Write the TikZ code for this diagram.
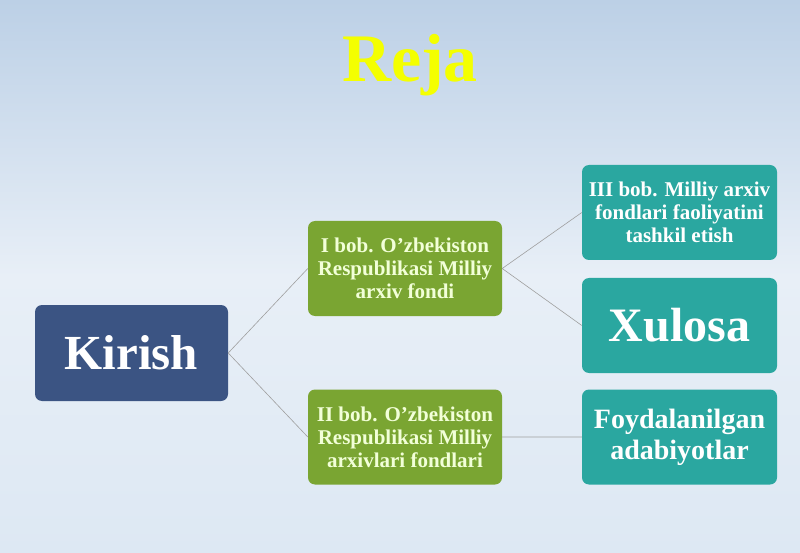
\documentclass[tikz,border=0pt]{standalone}
\usepackage{fontspec}
\setmainfont{Liberation Serif}
\usetikzlibrary{positioning}
\definecolor{kirishblue}{HTML}{3B5483}
\definecolor{bobgreen}{HTML}{7AA532}
\definecolor{bobteal}{HTML}{2AA7A0}
\definecolor{bgtop}{HTML}{BCD0E6}
\definecolor{bgmid}{HTML}{E8EFF7}
\definecolor{bgbot}{HTML}{DDE8F3}
\definecolor{rejayellow}{HTML}{F4FF00}
\definecolor{greentext}{HTML}{F2FFD8}
\tikzset{
    box/.style={rounded corners=7pt,inner sep=0pt,align=center,font=\bfseries},
    kbox/.style={box,fill=kirishblue,text=white,minimum width=193pt,minimum height=96pt},
    gbox/.style={box,fill=bobgreen,text=greentext,minimum width=194pt,minimum height=95pt},
    tbox/.style={box,fill=bobteal,text=white,minimum width=195pt,minimum height=95pt},
    small/.style={font=\bfseries\fontsize{21}{23}\selectfont},
    link/.style={draw=gray!75,line width=0.6pt},
}
\begin{document}
\begin{tikzpicture}[x=1pt,y=-1pt]
\shade[top color=bgtop,bottom color=bgbot,middle color=bgmid] (0,0) rectangle (800,553);
\useasboundingbox (0,0) rectangle (800,553);
\node[anchor=base,text=rejayellow,font=\bfseries\fontsize{68}{68}\selectfont] (reja) at (410,82) {Reja};
\node[kbox,font=\bfseries\fontsize{49}{56}\selectfont] (kirish) at (131.5,353) {Kirish};
\node[gbox,small] (bob1) at (405,268.5) {I bob. O’zbekiston\\Respublikasi Milliy\\arxiv fondi};
\node[gbox,small] (bob2) at (405,437) {II bob. O’zbekiston\\Respublikasi Milliy\\arxivlari fondlari};
\node[tbox,small] (bob3) at (679.5,212.5) {III bob. Milliy arxiv\\fondlari faoliyatini\\tashkil etish};
\node[tbox,font=\bfseries\fontsize{48}{54}\selectfont] (xulosa) at (679.5,325.5) {Xulosa};
\node[tbox,font=\bfseries\fontsize{28}{31}\selectfont] (adab) at (679.5,437) {Foydalanilgan\\adabiyotlar};
\path[link]
    (kirish.east) -- (bob1.west)
    (kirish.east) -- (bob2.west)
    (bob1.east) -- (bob3.west)
    (bob1.east) -- (xulosa.west)
    (bob2.east) -- (adab.west);
\end{tikzpicture}
\end{document}
